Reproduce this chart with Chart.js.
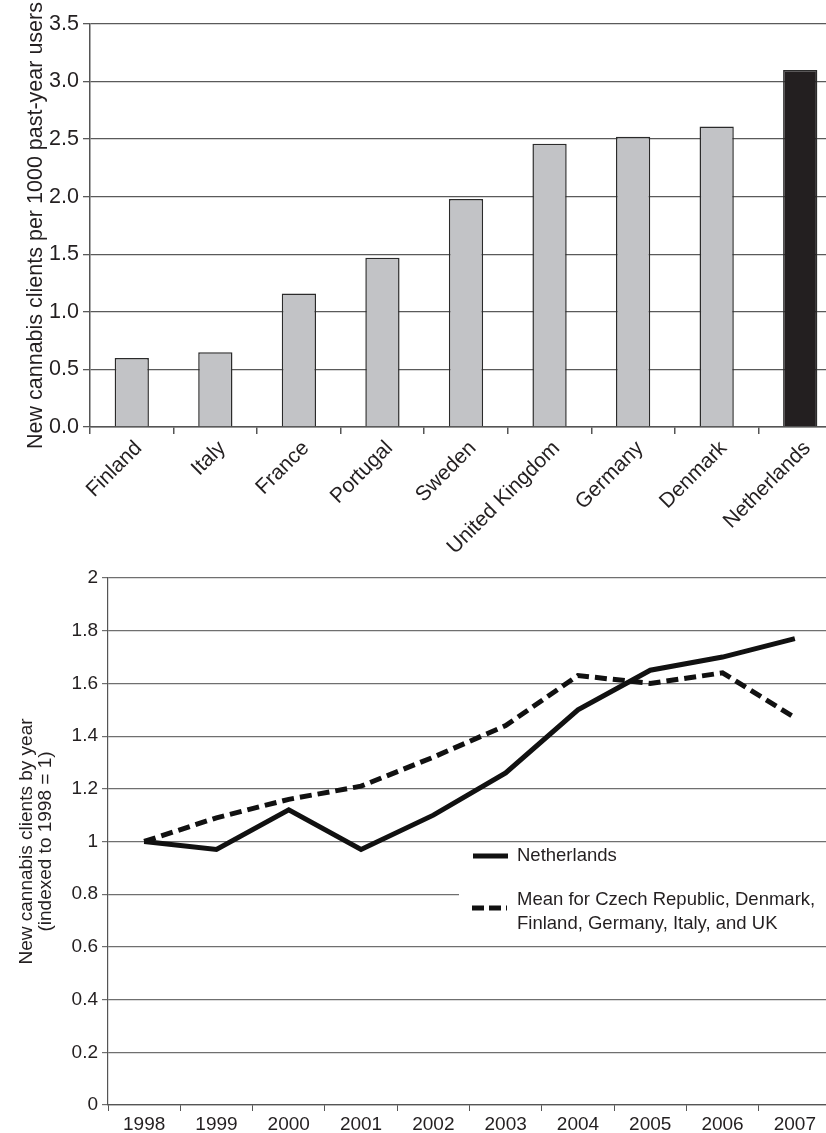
<!DOCTYPE html>
<html>
<head>
<meta charset="utf-8">
<script src="https://cdn.jsdelivr.net/npm/chart.js@4.4.1/dist/chart.umd.min.js"></script>
<style>
    html, body { margin: 0; padding: 0; background: #fff; overflow: hidden; }
    #wrap { position: relative; width: 826px; height: 1133px; overflow: hidden; }
    #barChart { position: absolute; left: 0; top: 0; }
    #lineChart { position: absolute; left: 0; top: 540px; }
</style>
</head>
<body>
<div id="wrap">
    <canvas id="barChart" width="842" height="565"></canvas>
    <canvas id="lineChart" width="831" height="593"></canvas>
</div>
<script>
// top panel: new cannabis clients per 1000 past-year users
const countries = ["Finland", "Italy", "France", "Portugal", "Sweden", "United Kingdom", "Germany", "Denmark", "Netherlands"];
const clientsPer1000 = [0.60, 0.65, 1.16, 1.47, 1.98, 2.46, 2.52, 2.61, 3.10];

// bottom panel: new clients by year, indexed to 1998 = 1
const years = ["1998", "1999", "2000", "2001", "2002", "2003", "2004", "2005", "2006", "2007"];
const netherlands = [1.00, 0.97, 1.12, 0.97, 1.10, 1.26, 1.50, 1.65, 1.70, 1.77];
const meanOthers = [1.00, 1.09, 1.16, 1.21, 1.32, 1.44, 1.63, 1.60, 1.64, 1.47];
const legendLabels = ["Netherlands", ["Mean for Czech Republic, Denmark,", "Finland, Germany, Italy, and UK"]];

const FONT = "'Liberation Sans', Arial, sans-serif";
const INK = "#231f20";
const GRID = "#6f6f6f";

Chart.defaults.font.family = FONT;
Chart.defaults.color = INK;
Chart.defaults.animation = false;

const barChart = new Chart(document.getElementById("barChart").getContext("2d"), {
    type: "bar",
    data: {
        labels: countries,
        datasets: [{
            data: clientsPer1000,
            backgroundColor: countries.map(c => c === "Netherlands" ? "#231f20" : "#c2c3c6"),
            borderColor: "#2b2b2b",
            borderWidth: 1.5,
            barPercentage: 0.41,
            categoryPercentage: 1.0,
        }],
    },
    options: {
        responsive: false,
        layout: { padding: { top: 24, right: 0, left: 0, bottom: 0 } },
        plugins: { legend: { display: false }, tooltip: { enabled: false } },
        scales: {
            x: {
                offset: true,
                grid: { display: true, drawOnChartArea: false, offset: true, tickLength: 7, color: "#555", lineWidth: 1.5 },
                border: { color: "#555", width: 1.5 },
                ticks: { minRotation: 45, maxRotation: 45, font: { size: 21 }, color: INK, padding: 2, labelOffset: 7 },
                afterFit: (scale) => { scale.height = 138; },
            },
            y: {
                min: 0,
                max: 3.5,
                ticks: { stepSize: 0.5, font: { size: 21.5 }, color: INK, padding: 4, callback: (v) => v.toFixed(1) },
                grid: { color: "#5a5a5a", lineWidth: 1.3, tickLength: 7 },
                border: { color: "#555", width: 1.5 },
                title: { display: true, text: "New cannabis clients per 1000 past-year users", font: { size: 21.5 }, color: INK, padding: { top: 23, bottom: 0 } },
                afterFit: (scale) => { scale.width = 90; },
            },
        },
    },
});

// legend box sits inside the plot area, drawn over the gridlines
const boxLegend = {
    id: "boxLegend",
    beforeDatasetsDraw(chart) {
        const ctx = chart.ctx;
        const x0 = 459, y0 = 306;
        ctx.save();
        ctx.fillStyle = "#fff";
        ctx.fillRect(x0, y0, chart.width - x0, 96);
        ctx.strokeStyle = "#111";
        ctx.lineWidth = 5;
        ctx.beginPath();
        ctx.moveTo(473, 316);
        ctx.lineTo(508, 316);
        ctx.stroke();
        ctx.setLineDash([12, 5]);
        ctx.beginPath();
        ctx.moveTo(472, 368);
        ctx.lineTo(507, 368);
        ctx.stroke();
        ctx.setLineDash([]);
        ctx.fillStyle = INK;
        ctx.font = "18.5px " + FONT;
        ctx.textBaseline = "middle";
        ctx.fillText(legendLabels[0], 517, 316);
        ctx.fillText(legendLabels[1][0], 517, 360);
        ctx.fillText(legendLabels[1][1], 517, 384);
        ctx.restore();
    },
};

const lineChart = new Chart(document.getElementById("lineChart").getContext("2d"), {
    type: "line",
    data: {
        labels: years,
        datasets: [
            {
                label: "Netherlands",
                data: netherlands,
                borderColor: "#111",
                borderWidth: 5,
                pointRadius: 0,
                tension: 0,
            },
            {
                label: "Mean",
                data: meanOthers,
                borderColor: "#111",
                borderWidth: 5,
                borderDash: [12, 6],
                pointRadius: 0,
                tension: 0,
            },
        ],
    },
    options: {
        responsive: false,
        layout: { padding: { top: 38, right: 0, left: 0, bottom: 0 } },
        plugins: { legend: { display: false }, tooltip: { enabled: false } },
        scales: {
            x: {
                offset: true,
                grid: { display: true, drawOnChartArea: false, offset: true, tickLength: 6, color: "#555", lineWidth: 1 },
                border: { color: "#555", width: 1.2 },
                ticks: { maxRotation: 0, font: { size: 19 }, color: INK, padding: 2 },
                afterFit: (scale) => { scale.height = 28; },
            },
            y: {
                min: 0,
                max: 2,
                ticks: { stepSize: 0.2, font: { size: 19 }, color: INK, padding: 4, callback: (v) => String(Number(v.toFixed(1))) },
                grid: { color: GRID, lineWidth: 1.2, tickLength: 6 },
                border: { color: "#555", width: 1.2 },
                title: { display: true, text: ["New cannabis clients by year", "(indexed to 1998 = 1)"], font: { size: 19, lineHeight: 1.0 }, color: INK, padding: { top: 17, bottom: 0 } },
                afterFit: (scale) => { scale.width = 108; },
            },
        },
    },
    plugins: [boxLegend],
});
</script>
</body>
</html>
